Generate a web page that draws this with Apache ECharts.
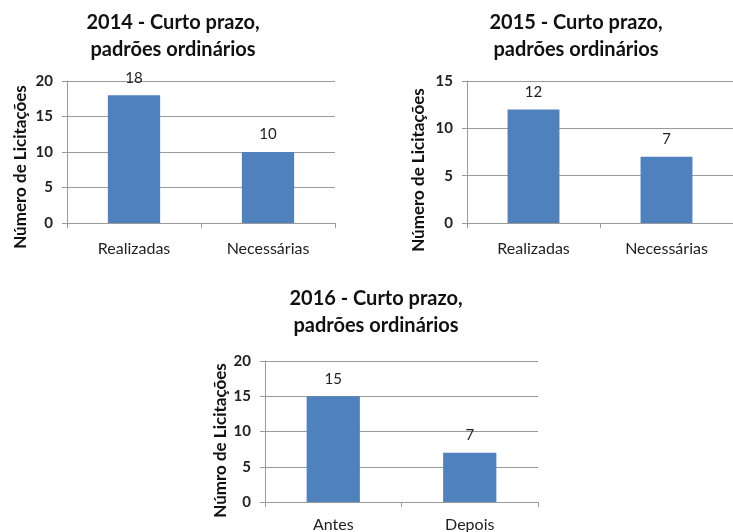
<!DOCTYPE html>
<html>
<head>
<meta charset="utf-8">
<script src="https://cdn.jsdelivr.net/npm/echarts@6/dist/echarts.min.js"></script>
<style>
  html, body { margin: 0; padding: 0; background: #fff; }
  #chart { width: 733px; height: 532px; }
</style>
</head>
<body>
<div id="chart"></div>
<script>
const titles = ['2014 - Curto prazo,\npadrões ordinários', '2015 - Curto prazo,\npadrões ordinários', '2016 - Curto prazo,\npadrões ordinários']
const cats2014 = ['Realizadas', 'Necessárias']
const vals2014 = [18, 10]
const cats2015 = ['Realizadas', 'Necessárias']
const vals2015 = [12, 7]
const cats2016 = ['Antes', 'Depois']
const vals2016 = [15, 7]
const yNames = ['Número de Licitações', 'Número de Licitações', 'Númro de Licitações']
const yMax = [20, 15, 20]

const font = 'Lato, "Open Sans", sans-serif'
const barColor = '#4F81BD'
const gridColor = '#9a9a9a'

const grids = [
  { left: 67, top: 81, width: 268, height: 142 },
  { left: 467, top: 81, width: 266, height: 142 },
  { left: 265, top: 361, width: 273, height: 141 },
]
const titlePos = [
  { left: 168, top: 4 },
  { left: 571, top: 4 },
  { left: 371, top: 280 },
]
const nameGaps = [38, 40, 36]
const namePad = [[0, 30, 0, 0], [0, 36, 0, 0], [0, 18, 0, 0]]
const catMargins = [18, 18, 15]
const catData = [cats2014, cats2015, cats2016]
const valData = [vals2014, vals2015, vals2016]

const chart = echarts.init(document.getElementById('chart'))

chart.setOption({
  animation: false,
  textStyle: { fontFamily: font },
  title: titles.map((t, i) => ({
    text: t,
    left: titlePos[i].left,
    top: titlePos[i].top,
    textAlign: 'center',
    textStyle: { fontFamily: font, fontSize: 20, fontWeight: 'bold', color: '#111', lineHeight: 27 },
  })),
  // 固定网格位置，不让标签挤压
  grid: grids.map((g) => ({ ...g, containLabel: false, outerBoundsMode: 'none' })),
  xAxis: catData.map((c, i) => ({
    type: 'category',
    gridIndex: i,
    data: c,
    axisLine: { lineStyle: { color: gridColor } },
    axisTick: { show: true, length: 5, lineStyle: { color: gridColor } },
    axisLabel: { color: '#222', fontSize: 16, fontFamily: font, margin: catMargins[i] },
  })),
  yAxis: yMax.map((m, i) => ({
    type: 'value',
    gridIndex: i,
    min: 0,
    max: m,
    interval: 5,
    name: yNames[i],
    nameLocation: 'middle',
    nameGap: nameGaps[i],
    nameRotate: 90,
    nameTextStyle: { color: '#111', fontSize: 17, fontWeight: 'bold', fontFamily: font, padding: namePad[i] },
    axisLine: { show: true, lineStyle: { color: gridColor } },
    axisTick: { show: true, length: 5, lineStyle: { color: gridColor } },
    axisLabel: { color: '#222', fontSize: 15, fontWeight: 'bold', fontFamily: font, margin: 14 },
    splitLine: { lineStyle: { color: gridColor, width: 1 } },
  })),
  series: valData.map((v, i) => ({
    type: 'bar',
    xAxisIndex: i,
    yAxisIndex: i,
    data: v,
    barWidth: '39%',
    itemStyle: { color: barColor },
    label: { show: true, position: 'top', distance: 10, color: '#222', fontSize: 15, fontFamily: font },
  })),
})
</script>
</body>
</html>
